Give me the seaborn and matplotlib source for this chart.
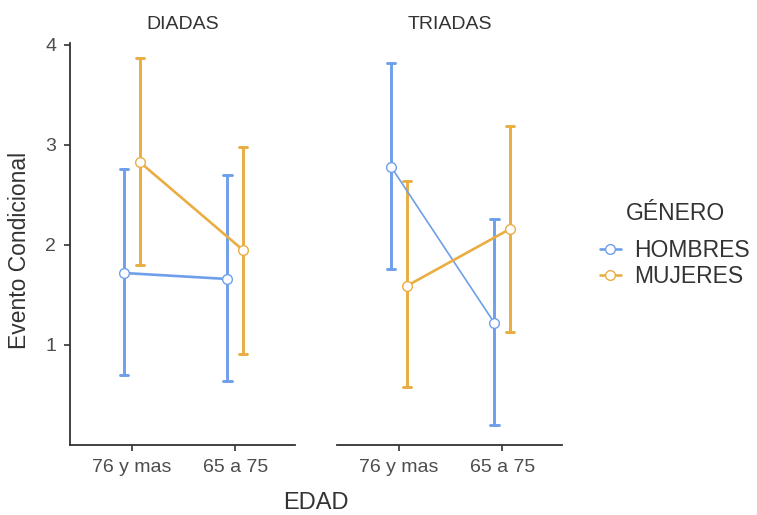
import numpy as np
import pandas as pd
import matplotlib
matplotlib.use("Agg")
import matplotlib.pyplot as plt
from matplotlib.lines import Line2D
import matplotlib.colors as mcolors
import seaborn as sns

# ---- data ----
edad = ["76 y mas", "65 a 75"]
generos = ["HOMBRES", "MUJERES"]
grupos = ["DIADAS", "TRIADAS"]

diadas_hombres_mean = [1.72, 1.66]
diadas_hombres_lo = [0.70, 0.64]
diadas_hombres_hi = [2.76, 2.70]
diadas_mujeres_mean = [2.83, 1.95]
diadas_mujeres_lo = [1.80, 0.91]
diadas_mujeres_hi = [3.87, 2.98]

triadas_hombres_mean = [2.78, 1.22]
triadas_hombres_lo = [1.76, 0.20]
triadas_hombres_hi = [3.82, 2.26]
triadas_mujeres_mean = [1.59, 2.16]
triadas_mujeres_lo = [0.58, 1.13]
triadas_mujeres_hi = [2.64, 3.19]

series = {
    ("DIADAS", "HOMBRES"): (diadas_hombres_lo, diadas_hombres_mean, diadas_hombres_hi),
    ("DIADAS", "MUJERES"): (diadas_mujeres_lo, diadas_mujeres_mean, diadas_mujeres_hi),
    ("TRIADAS", "HOMBRES"): (triadas_hombres_lo, triadas_hombres_mean, triadas_hombres_hi),
    ("TRIADAS", "MUJERES"): (triadas_mujeres_lo, triadas_mujeres_mean, triadas_mujeres_hi),
}

rows = []
for (g, s), (lo, mid, hi) in series.items():
    for i, e in enumerate(edad):
        for v in (lo[i], mid[i], hi[i]):
            rows.append({"GRUPO": g, "GÉNERO": s, "EDAD": e, "valor": v})
df = pd.DataFrame(rows)

palette = {"HOMBRES": "#6E9FEB", "MUJERES": "#E9AD42"}

sns.set_style("white")
plt.rcParams["font.family"] = ["Liberation Sans", "DejaVu Sans"]

fig = plt.figure(figsize=(7.57, 5.15), dpi=100)
W, H = 757, 515
bottom = 1 - 445 / H
height = (445 - 43) / H
ax1 = fig.add_axes([70 / W, bottom, (295 - 70) / W, height])
ax2 = fig.add_axes([337 / W, bottom, (562 - 337) / W, height])

txt = "#4D4D4D"
for ax, g in zip([ax1, ax2], grupos):
    sub = df[df["GRUPO"] == g]
    sns.pointplot(data=sub, x="EDAD", y="valor", hue="GÉNERO", order=edad,
                  hue_order=generos, palette=palette, estimator="median",
                  errorbar=("pi", 100), dodge=0.15, capsize=0.08,
                  markers="o", linewidth=1.9, markersize=7,
                  markerfacecolor="white", markeredgewidth=1.0,
                  err_kws={"linewidth": 2.1}, ax=ax, legend=False)
    for ln in ax.lines:
        if ln.get_marker() not in (None, "None", "", " "):
            ln.set_zorder(5)
            ln.set_markerfacecolor("white")
            if g == "TRIADAS" and mcolors.same_color(ln.get_color(), palette["HOMBRES"]):
                ln.set_linewidth(1.2)
    ax.set_xlim(-0.6, 1.58)
    ax.set_ylim(0.0, 4.02)
    ax.set_title(g, fontsize=14, color="#333333", pad=10)
    ax.set_xlabel("")
    ax.set_ylabel("")
    ax.tick_params(axis="x", length=4, width=1.2, color="#333333",
                   labelsize=14, labelcolor=txt, pad=6, bottom=True)
    for sp in ["top", "right"]:
        ax.spines[sp].set_visible(False)
    ax.spines["bottom"].set_color("#333333")
    ax.spines["bottom"].set_linewidth(1.3)

ax1.set_yticks([1, 2, 3, 4])
ax1.tick_params(axis="y", length=4, width=1.2, color="#333333",
                labelsize=14, labelcolor=txt, pad=6, left=True)
ax1.spines["left"].set_color("#333333")
ax1.spines["left"].set_linewidth(1.3)
ax2.spines["left"].set_visible(False)
ax2.set_yticks([])

fig.text(20 / W, 1 - 250 / H, "Evento Condicional", rotation=90,
         ha="center", va="center", fontsize=16.5, color="#333333")
fig.text(316 / W, 1 - 503 / H, "EDAD", ha="center", va="center",
         fontsize=17, color="#333333")

handles = [Line2D([0], [0], color=palette[s], lw=1.9, marker="o",
                  markersize=7, markerfacecolor="white",
                  markeredgewidth=1.0) for s in generos]
leg = fig.legend(handles, generos, title="GÉNERO", loc="upper left",
                 bbox_to_anchor=(591 / W, 1 - 193 / H), frameon=False,
                 fontsize=16.5, title_fontsize=16.5, handlelength=0.9,
                 handletextpad=0.6, labelspacing=0.15, borderaxespad=0.0,
                 borderpad=0.4)
leg._legend_box.sep = 10
for t in leg.get_texts():
    t.set_color("#333333")
leg.get_title().set_color("#333333")

fig.savefig("out.png", dpi=100)
